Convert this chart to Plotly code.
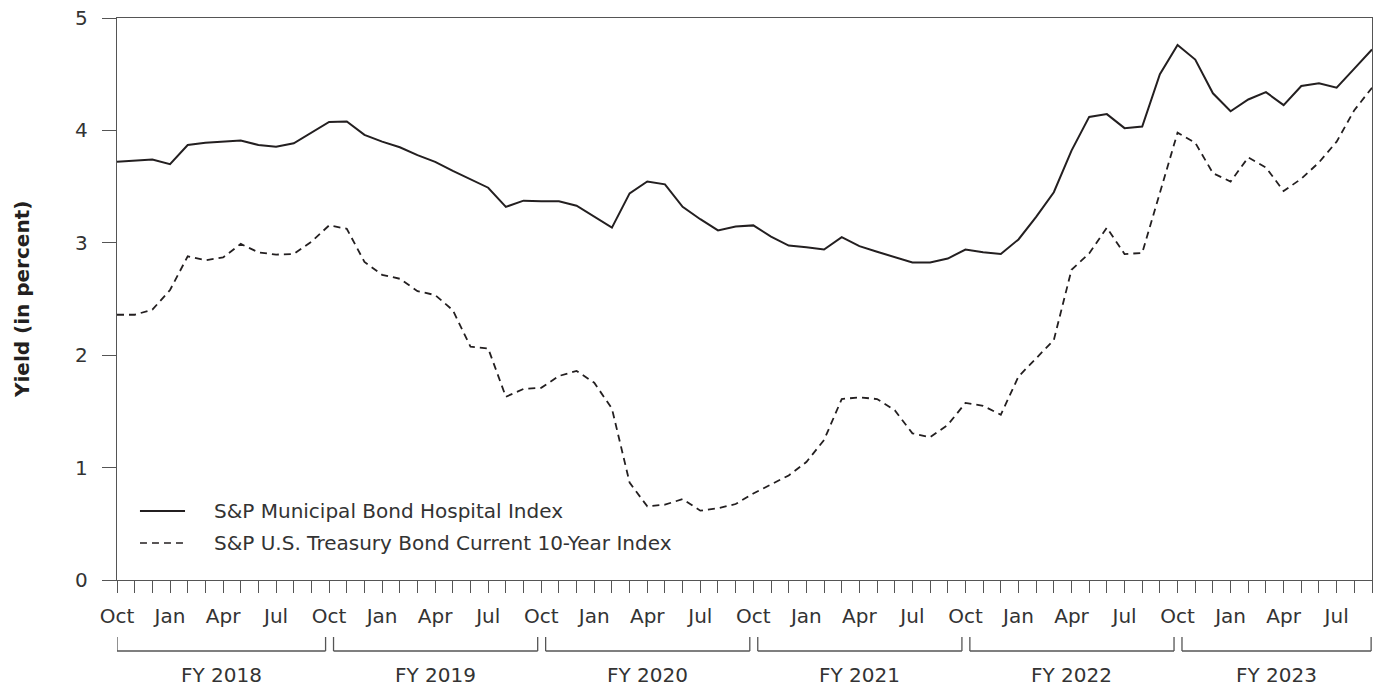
import plotly.graph_objects as go

# Monthly observations, Oct 2017 - Sep 2023
months = [f"{2017 + (9 + i) // 12}-{(9 + i) % 12 + 1:02d}" for i in range(72)]
month_abbr = ["Jan", "Feb", "Mar", "Apr", "May", "Jun", "Jul", "Aug", "Sep", "Oct", "Nov", "Dec"]

municipal = [
    3.72, 3.73, 3.74, 3.70, 3.87, 3.89, 3.90, 3.91, 3.87, 3.855, 3.885, 3.98,
    4.075, 4.08, 3.96, 3.90, 3.85, 3.78, 3.72, 3.64, 3.565, 3.49, 3.32, 3.375,
    3.37, 3.37, 3.33, 3.23, 3.135, 3.44, 3.545, 3.52, 3.32, 3.21, 3.11, 3.145,
    3.155, 3.055, 2.975, 2.96, 2.94, 3.05, 2.97, 2.92, 2.875, 2.825, 2.825, 2.86,
    2.94, 2.915, 2.90, 3.03, 3.23, 3.45, 3.82, 4.12, 4.145, 4.02, 4.035, 4.50,
    4.76, 4.63, 4.33, 4.17, 4.275, 4.34, 4.225, 4.395, 4.42, 4.38, 4.55, 4.72,
]
treasury = [
    2.36, 2.36, 2.405, 2.58, 2.88, 2.845, 2.87, 2.99, 2.915, 2.895, 2.90, 3.01,
    3.155, 3.125, 2.83, 2.715, 2.68, 2.57, 2.535, 2.40, 2.075, 2.06, 1.63, 1.70,
    1.71, 1.815, 1.86, 1.755, 1.525, 0.866, 0.655, 0.67, 0.72, 0.617, 0.638, 0.676,
    0.77, 0.85, 0.93, 1.05, 1.245, 1.61, 1.625, 1.61, 1.51, 1.305, 1.27, 1.38,
    1.575, 1.55, 1.47, 1.81, 1.97, 2.135, 2.76, 2.905, 3.135, 2.90, 2.91, 3.45,
    3.98, 3.89, 3.62, 3.545, 3.76, 3.67, 3.46, 3.57, 3.715, 3.90, 4.18, 4.38,
]
fiscal_years = ["FY 2018", "FY 2019", "FY 2020", "FY 2021", "FY 2022", "FY 2023"]
y_ticks = [0, 1, 2, 3, 4, 5]

series_names = ["S&P Municipal Bond Hospital Index", "S&P U.S. Treasury Bond Current 10-Year Index"]

FONT = "DejaVu Sans"
FS = 20
TXT = "#333333"
LINE = "#231f20"
AX = "#555555"
TREAS_DASH = "7px,5px"

tick_text = [month_abbr[int(m[5:]) - 1] if i % 3 == 0 else "" for i, m in enumerate(months)]

fig = go.Figure()
fig.add_trace(go.Scatter(x=months, y=municipal, mode="lines", name=series_names[0],
                         line=dict(color=LINE, width=2), showlegend=False))
fig.add_trace(go.Scatter(x=months, y=treasury, mode="lines", name=series_names[1],
                         line=dict(color=LINE, width=1.8, dash=TREAS_DASH), showlegend=False))

shapes = []
annotations = []
b_top, b_bot = -0.1014, -0.1263
for k, fy in enumerate(fiscal_years):
    x0 = 0 if k == 0 else 12 * k + 0.25
    x1 = min(12 * k + 11.8, 70.95)
    line_style = dict(color=AX, width=1.3)
    shapes.append(dict(type="line", xref="x", yref="paper", x0=x0, x1=x0, y0=b_top, y1=b_bot, line=line_style))
    shapes.append(dict(type="line", xref="x", yref="paper", x0=x0, x1=x1, y0=b_bot, y1=b_bot, line=line_style))
    shapes.append(dict(type="line", xref="x", yref="paper", x0=x1, x1=x1, y0=b_top, y1=b_bot, line=line_style))
    annotations.append(dict(x=(x0 + x1) / 2, xref="x", y=-0.169, yref="paper", text=fy,
                            showarrow=False, xanchor="center", yanchor="middle",
                            font=dict(family=FONT, size=FS, color=TXT)))

# Legend (drawn inside the plot, lower left)
legend_rows = [(series_names[0], 0.1228, dict(color=LINE, width=2.2)),
               (series_names[1], 0.0658, dict(color=LINE, width=1.6, dash=TREAS_DASH))]
for name, ly, lstyle in legend_rows:
    shapes.append(dict(type="line", xref="paper", yref="paper", x0=0.0183, x1=0.0542, y0=ly, y1=ly,
                       line=lstyle))
    annotations.append(dict(x=0.0757, xref="paper", y=ly, yref="paper", text=name, showarrow=False,
                            xanchor="left", yanchor="middle",
                            font=dict(family=FONT, size=FS, color=TXT)))

annotations.append(dict(x=-0.0757, xref="paper", y=0.5, yref="paper", text="<b>Yield (in percent)</b>",
                        textangle=-90, showarrow=False, xanchor="center", yanchor="middle",
                        font=dict(family=FONT, size=FS, color="#231f20")))

fig.update_layout(
    width=1380, height=688,
    margin=dict(l=117, r=8, t=18, b=108, autoexpand=False),
    paper_bgcolor="white", plot_bgcolor="white",
    font=dict(family=FONT, size=FS, color=TXT),
    showlegend=False,
    shapes=shapes, annotations=annotations,
    xaxis=dict(type="category", range=[0, 71], tickmode="array", tickvals=months, ticktext=tick_text,
               ticks="outside", ticklen=12, tickwidth=1.3, tickcolor=AX, automargin=False,
               showline=True, linecolor=AX, linewidth=1.3, mirror=True, showgrid=False,
               zeroline=False, ticklabelstandoff=6, tickfont=dict(family=FONT, size=FS, color=TXT)),
    yaxis=dict(range=[0, 5], tickmode="array", tickvals=y_ticks, ticks="outside", ticklen=14,
               tickwidth=1.3, tickcolor=AX, showline=True, linecolor=AX, linewidth=1.3, mirror=True,
               showgrid=False, zeroline=False, ticklabelstandoff=10, automargin=False,
               ticklabeloverflow="allow",
               tickfont=dict(family=FONT, size=FS, color=TXT)),
)

# Remove the browser's default page margin so the figure fills the window exactly.
fig.write_html("out.html", config={"displayModeBar": False},
               post_script="document.body.style.margin='0';document.body.style.overflow='hidden';")
